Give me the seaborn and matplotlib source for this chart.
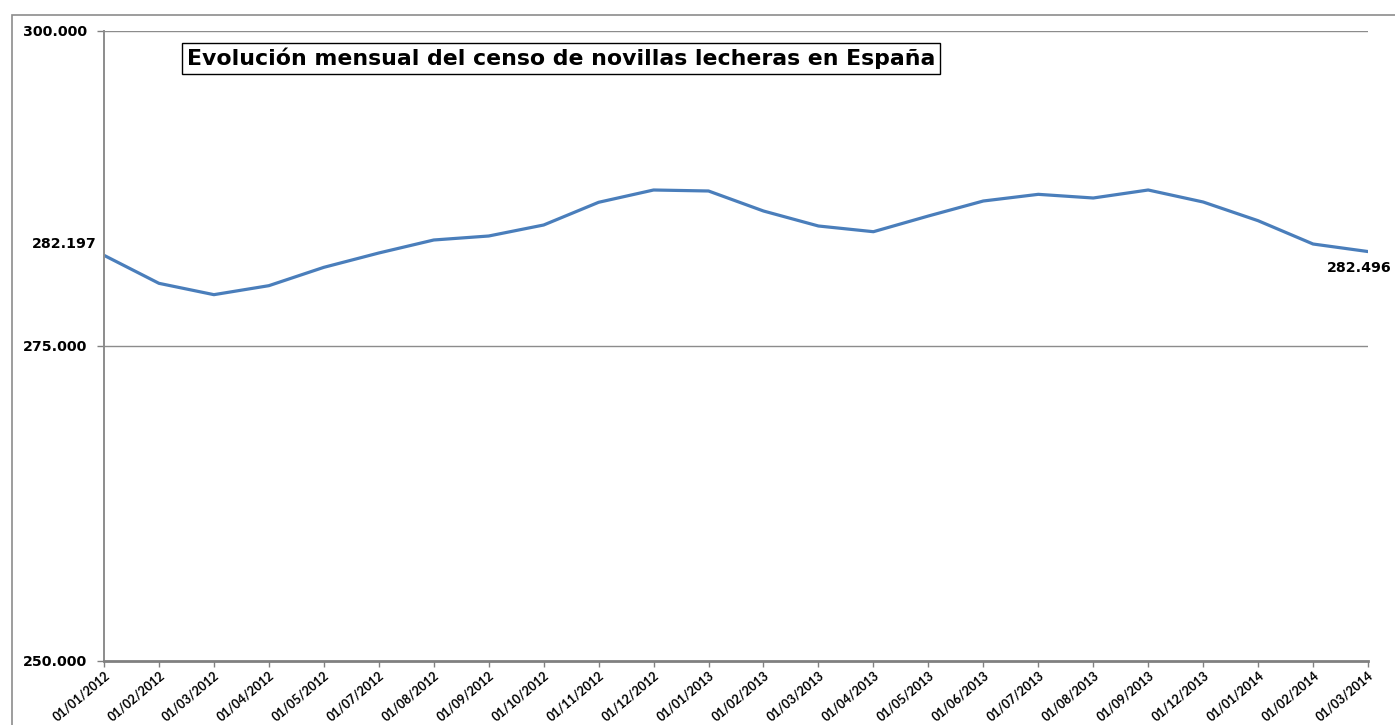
import matplotlib
matplotlib.use("Agg")
import matplotlib.pyplot as plt
import matplotlib.ticker as mticker
from matplotlib.patches import Rectangle
import seaborn as sns
import pandas as pd

# Fechas (eje categórico) y censo mensual de novillas lecheras
fechas = [
    "01/01/2012", "01/02/2012", "01/03/2012", "01/04/2012", "01/05/2012",
    "01/07/2012", "01/08/2012", "01/09/2012", "01/10/2012", "01/11/2012",
    "01/12/2012", "01/01/2013", "01/02/2013", "01/03/2013", "01/04/2013",
    "01/05/2013", "01/06/2013", "01/07/2013", "01/08/2013", "01/09/2013",
    "01/12/2013", "01/01/2014", "01/02/2014", "01/03/2014",
]
censo = [
    282197, 279974, 279074, 279788, 281243,
    282381, 283413, 283730, 284603, 286405,
    287381, 287302, 285714, 284524, 284071,
    285317, 286508, 287037, 286746, 287381,
    286429, 284944, 283095, 282496,
]
y_ticks = [250000, 275000, 300000]

df = pd.DataFrame({"fecha": fechas, "censo": censo})

sns.set_style("white")
plt.rcParams["font.family"] = ["DejaVu Sans"]
plt.rcParams["text.color"] = "black"
plt.rcParams["xtick.color"] = "black"
plt.rcParams["ytick.color"] = "black"

fig = plt.figure(figsize=(13.95, 7.25), dpi=100)
ax = fig.add_axes([104 / 1395, 64 / 725, 1264 / 1395, 630 / 725])

sns.lineplot(data=df, x="fecha", y="censo", sort=False, color="#4A7EBB",
             linewidth=2.3, ax=ax)

ax.set_xlim(0, len(fechas) - 1)
ax.set_ylim(y_ticks[0], y_ticks[-1])
ax.set_yticks(y_ticks)
ax.yaxis.set_major_formatter(
    mticker.FuncFormatter(lambda v, p: f"{v:,.0f}".replace(",", ".")))
for yv in y_ticks[1:]:
    ax.axhline(yv, color="#8C8C8C", linewidth=1.0, zorder=0)

ax.set_xticks(range(len(fechas)))
ax.set_xticklabels(fechas, rotation=40, ha="right", rotation_mode="anchor",
                   fontsize=9, fontweight="bold", family="Lato")
for lab in ax.get_yticklabels():
    lab.set_fontsize(10.2)
    lab.set_fontweight("bold")
ax.tick_params(axis="x", length=4, width=1, color="#808080", pad=2, direction="out",
               bottom=True, labelcolor="black")
ax.tick_params(axis="y", length=5, width=1, color="#808080", pad=7, direction="out",
               left=True, labelcolor="black")
ax.set_xlabel("")
ax.set_ylabel("")

for side in ["top", "right"]:
    ax.spines[side].set_visible(False)
ax.spines["left"].set_color("#8C8C8C")
ax.spines["left"].set_linewidth(1.4)
ax.spines["bottom"].set_color("#808080")
ax.spines["bottom"].set_linewidth(2.0)

# Etiquetas de datos en el primer y último punto
ax.annotate(f"{censo[0]:,}".replace(",", "."), xy=(0, censo[0]),
            xytext=(-5, 8), textcoords="offset points", ha="right", va="center",
            fontsize=10.2, fontweight="bold", color="black", annotation_clip=False)
ax.annotate(f"{censo[-1]:,}".replace(",", "."), xy=(len(fechas) - 1, censo[-1]),
            xytext=(-6, -12), textcoords="offset points", ha="center", va="center",
            fontsize=10.2, fontweight="bold", color="black", annotation_clip=False)

fig.text(561 / 1395, 1 - 58.5 / 725,
         "Evolución mensual del censo de novillas lecheras en España",
         ha="center", va="center", fontsize=15.8, fontweight="bold", color="black",
         bbox=dict(boxstyle="square,pad=0.22", facecolor="white",
                   edgecolor="black", linewidth=1.0))

fig.patches.append(Rectangle((12 / 1395, -0.1), 1.2, 1 - 15 / 725 + 0.1,
                             transform=fig.transFigure, fill=False,
                             edgecolor="#8C8C8C", linewidth=1.2))

fig.savefig("out.png", dpi=100)
